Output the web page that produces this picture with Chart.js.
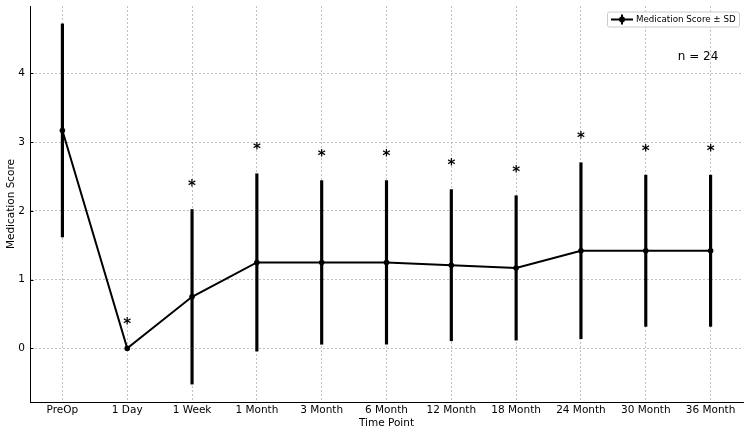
<!DOCTYPE html>
<html>
<head>
<meta charset="utf-8">
<script src="https://cdn.jsdelivr.net/npm/chart.js@4"></script>
<style>
  html, body { margin: 0; padding: 0; background: #fff; }
  #wrap { width: 750px; height: 435px; }
</style>
</head>
<body>
<div id="wrap"><canvas id="scoreChart" width="750" height="435"></canvas></div>
<script>
const timePoints = ["PreOp", "1 Day", "1 Week", "1 Month", "3 Month", "6 Month", "12 Month", "18 Month", "24 Month", "30 Month", "36 Month"];
const meanScores = [3.17, 0, 0.75, 1.25, 1.25, 1.25, 1.21, 1.17, 1.42, 1.42, 1.42];
const sdScores = [1.55, 0, 1.27, 1.29, 1.19, 1.19, 1.10, 1.05, 1.28, 1.10, 1.10];
// where the significance stars sit (y value of the star centre)
const starY = [null, 0.40, 2.41, 2.94, 2.84, 2.84, 2.71, 2.61, 3.10, 2.92, 2.92];
const yTicks = [0, 1, 2, 3, 4];
const sampleLabel = "n = 24";
const legendLabel = "Medication Score \u00b1 SD";

const fontName = "'DejaVu Sans', sans-serif";

function errorRanges() {
    return meanScores.map((m, i) => [m - sdScores[i], m + sdScores[i]]);
}

const extrasPlugin = {
    id: "extras",
    afterDatasetsDraw(chart) {
        const ctx = chart.ctx;
        const x = chart.scales.x;
        const y = chart.scales.y;
        const area = chart.chartArea;

        ctx.save();
        // small inward tick marks on the y axis
        ctx.strokeStyle = "#000";
        ctx.lineWidth = 1;
        ctx.beginPath();
        yTicks.forEach(v => {
            const py = Math.round(y.getPixelForValue(v)) + 0.5;
            ctx.moveTo(area.left, py);
            ctx.lineTo(area.left + 3.5, py);
        });
        ctx.stroke();

        ctx.fillStyle = "#000";
        ctx.font = "bold 15px " + fontName;
        ctx.textAlign = "center";
        ctx.textBaseline = "alphabetic";
        starY.forEach((v, i) => {
            if (v === null) return;
            ctx.fillText("*", x.getPixelForValue(i), y.getPixelForValue(v) + 8);
        });

        // n label
        ctx.font = "12px " + fontName;
        ctx.textBaseline = "middle";
        ctx.fillText(sampleLabel, 698, 57);

        // legend box
        const bx = 607, by = 11.5, bw = 132, bh = 15;
        ctx.fillStyle = "rgba(255,255,255,0.85)";
        ctx.strokeStyle = "#cccccc";
        ctx.lineWidth = 1;
        ctx.beginPath();
        ctx.roundRect(bx + 0.5, by + 0.5, bw, bh, 2);
        ctx.fill();
        ctx.stroke();

        const my = by + bh / 2 + 0.5;
        ctx.strokeStyle = "#000";
        ctx.lineWidth = 2;
        ctx.beginPath();
        ctx.moveTo(bx + 4, my);
        ctx.lineTo(bx + 26, my);
        ctx.moveTo(bx + 15, my - 5);
        ctx.lineTo(bx + 15, my + 5);
        ctx.stroke();
        ctx.fillStyle = "#000";
        ctx.beginPath();
        ctx.arc(bx + 15, my, 3, 0, Math.PI * 2);
        ctx.fill();

        ctx.font = "8.7px " + fontName;
        ctx.textAlign = "left";
        ctx.textBaseline = "middle";
        ctx.fillText(legendLabel, bx + 29, my);
        ctx.restore();
    }
};

new Chart(document.getElementById("scoreChart"), {
    type: "line",
    data: {
        labels: timePoints,
        datasets: [{
            type: "line",
            label: legendLabel,
            data: meanScores,
            borderColor: "#000",
            backgroundColor: "#000",
            borderWidth: 2,
            pointRadius: 2.8,
            pointBorderWidth: 0,
            pointBackgroundColor: "#000",
            tension: 0,
            order: 1
        }, {
            type: "bar",
            label: "SD",
            data: errorRanges(),
            backgroundColor: "#000",
            borderWidth: 0,
            barThickness: 2.5,
            order: 2
        }]
    },
    plugins: [extrasPlugin],
    options: {
        responsive: false,
        animation: false,
        layout: { padding: { top: 6, right: 7, left: 0, bottom: 0 } },
        plugins: {
            legend: { display: false },
            tooltip: { enabled: false }
        },
        scales: {
            x: {
                type: "category",
                offset: true,
                grid: { offset: false, color: "#b0b0b0", lineWidth: 0.8, drawTicks: false },
                border: { display: true, color: "#000", width: 1, dash: [2, 2] },
                ticks: { color: "#000", padding: 2, maxRotation: 0, autoSkip: false, font: { family: fontName, size: 10.5 } },
                title: { display: true, text: "Time Point", color: "#000", padding: { top: 0, bottom: 5 }, font: { family: fontName, size: 10.5 } },
                afterFit(scale) { scale.height = 33; scale.paddingLeft = 0; scale.paddingRight = 0; }
            },
            y: {
                min: -0.78,
                max: 4.98,
                afterBuildTicks(scale) { scale.ticks = yTicks.map(v => ({ value: v })); },
                grid: { color: "#b0b0b0", lineWidth: 0.8, drawTicks: false },
                border: { display: true, color: "#000", width: 1, dash: [2, 2] },
                ticks: { color: "#000", padding: 5, font: { family: fontName, size: 10.5 } },
                title: { display: true, text: "Medication Score", color: "#000", padding: { top: 5, bottom: 0 }, font: { family: fontName, size: 10.5 } },
                afterFit(scale) { scale.width = 30; scale.paddingTop = 0; scale.paddingBottom = 0; }
            }
        }
    }
});
</script>
</body>
</html>
